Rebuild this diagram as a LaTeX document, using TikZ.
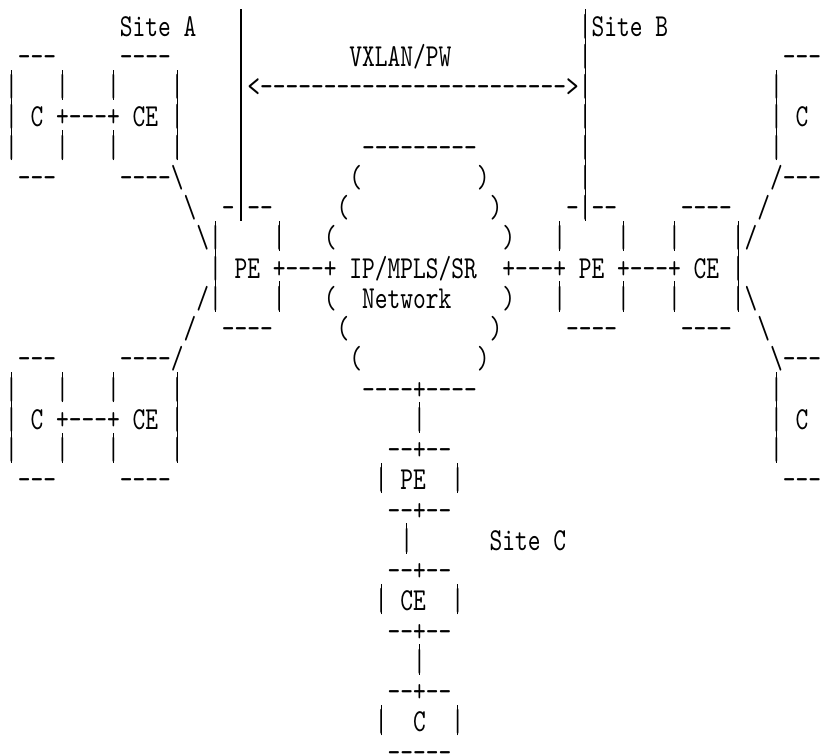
\documentclass[tikz,border=0pt]{standalone}
\usepackage{graphicx}
\font\ascfont="[lmmono10-regular.otf]" at 32pt
\tikzset{seg/.style={anchor=base west, inner sep=0pt, outer sep=0pt, text=black}}
% one run of characters of the ASCII drawing: row, column, text
\newcommand\sg[3]{\node[seg] (r#1c#2) at ({5.125pt+#2*12.75pt},{-36pt-#1*30.26pt}) {\scalebox{0.759}[1]{\ascfont\frenchspacing #3}};}
\newcommand\bs{\textbackslash}
% the bar character, with a thin rule behind it that fills its whole row,
% so that bars in rows above each other join up
\newcommand\vb{\rlap{\hbox to 16.8pt{\hss\vrule width 1.8pt height 27pt depth 3.3pt\hss}}|}
\begin{document}
\begin{tikzpicture}
\fill[white] (0pt,0pt) rectangle (827pt,-753pt);
\useasboundingbox (0pt,0pt) rectangle (827pt,-753pt);
% row 0
\sg{0}{9}{Site A}\sg{0}{18}{\vb}\sg{0}{45}{\vb Site B}
% row 1
\sg{1}{1}{---}\sg{1}{9}{----}\sg{1}{18}{\vb}\sg{1}{27}{VXLAN/PW}\sg{1}{45}{\vb}\sg{1}{61}{---}
% row 2
\sg{2}{0}{\vb}\sg{2}{4}{\vb}\sg{2}{8}{\vb}\sg{2}{13}{\vb}
\sg{2}{18}{\vb<------------------------>\vb}\sg{2}{60}{\vb}
% row 3
\sg{3}{0}{\vb{} C +---+ CE \vb}\sg{3}{18}{\vb}\sg{3}{45}{\vb}\sg{3}{60}{\vb{} C}
% row 4
\sg{4}{0}{\vb}\sg{4}{4}{\vb}\sg{4}{8}{\vb}\sg{4}{13}{\vb}\sg{4}{18}{\vb}
\sg{4}{28}{---------}\sg{4}{45}{\vb}\sg{4}{60}{\vb}
% row 5
\sg{5}{1}{---}\sg{5}{9}{----\bs}\sg{5}{18}{\vb}\sg{5}{27}{(}\sg{5}{37}{)}
\sg{5}{45}{\vb}\sg{5}{60}{/---}
% row 6
\sg{6}{14}{\bs}\sg{6}{17}{-\vb--}\sg{6}{26}{(}\sg{6}{38}{)}\sg{6}{44}{-\vb--}
\sg{6}{53}{----}\sg{6}{59}{/}
% row 7
\sg{7}{15}{\bs\vb}\sg{7}{21}{\vb}\sg{7}{25}{(}\sg{7}{39}{)}\sg{7}{43}{\vb}\sg{7}{48}{\vb}
\sg{7}{52}{\vb}\sg{7}{57}{\vb/}
% row 8
\sg{8}{16}{\vb{} PE +---+ IP/MPLS/SR}\sg{8}{39}{+---+ PE +---+ CE \vb}
% row 9
\sg{9}{15}{/\vb}\sg{9}{21}{\vb}\sg{9}{25}{(}\sg{9}{28}{Network}\sg{9}{39}{)}
\sg{9}{43}{\vb}\sg{9}{48}{\vb}\sg{9}{52}{\vb}\sg{9}{57}{\vb\bs}
% row 10
\sg{10}{14}{/}\sg{10}{17}{----}\sg{10}{26}{(}\sg{10}{38}{)}\sg{10}{44}{----}
\sg{10}{53}{----}\sg{10}{59}{\bs}
% row 11
\sg{11}{1}{---}\sg{11}{9}{----/}\sg{11}{27}{(}\sg{11}{37}{)}\sg{11}{60}{\bs---}
% row 12
\sg{12}{0}{\vb}\sg{12}{4}{\vb}\sg{12}{8}{\vb}\sg{12}{13}{\vb}\sg{12}{28}{----+----}\sg{12}{60}{\vb}
% row 13
\sg{13}{0}{\vb{} C +---+ CE \vb}\sg{13}{32}{\vb}\sg{13}{60}{\vb{} C}
% row 14
\sg{14}{0}{\vb}\sg{14}{4}{\vb}\sg{14}{8}{\vb}\sg{14}{13}{\vb}\sg{14}{30}{--+--}\sg{14}{60}{\vb}
% row 15
\sg{15}{1}{---}\sg{15}{9}{----}\sg{15}{29}{\vb{} PE}\sg{15}{35}{\vb}\sg{15}{61}{---}
% rows 16-24 (site C)
\sg{16}{30}{--+--}
\sg{17}{31}{\vb}\sg{17}{38}{Site C}
\sg{18}{30}{--+--}
\sg{19}{29}{\vb{} CE}\sg{19}{35}{\vb}
\sg{20}{30}{--+--}
\sg{21}{32}{\vb}
\sg{22}{30}{--+--}
\sg{23}{29}{\vb}\sg{23}{32}{C}\sg{23}{35}{\vb}
\sg{24}{30}{-----}
\end{tikzpicture}
\end{document}
